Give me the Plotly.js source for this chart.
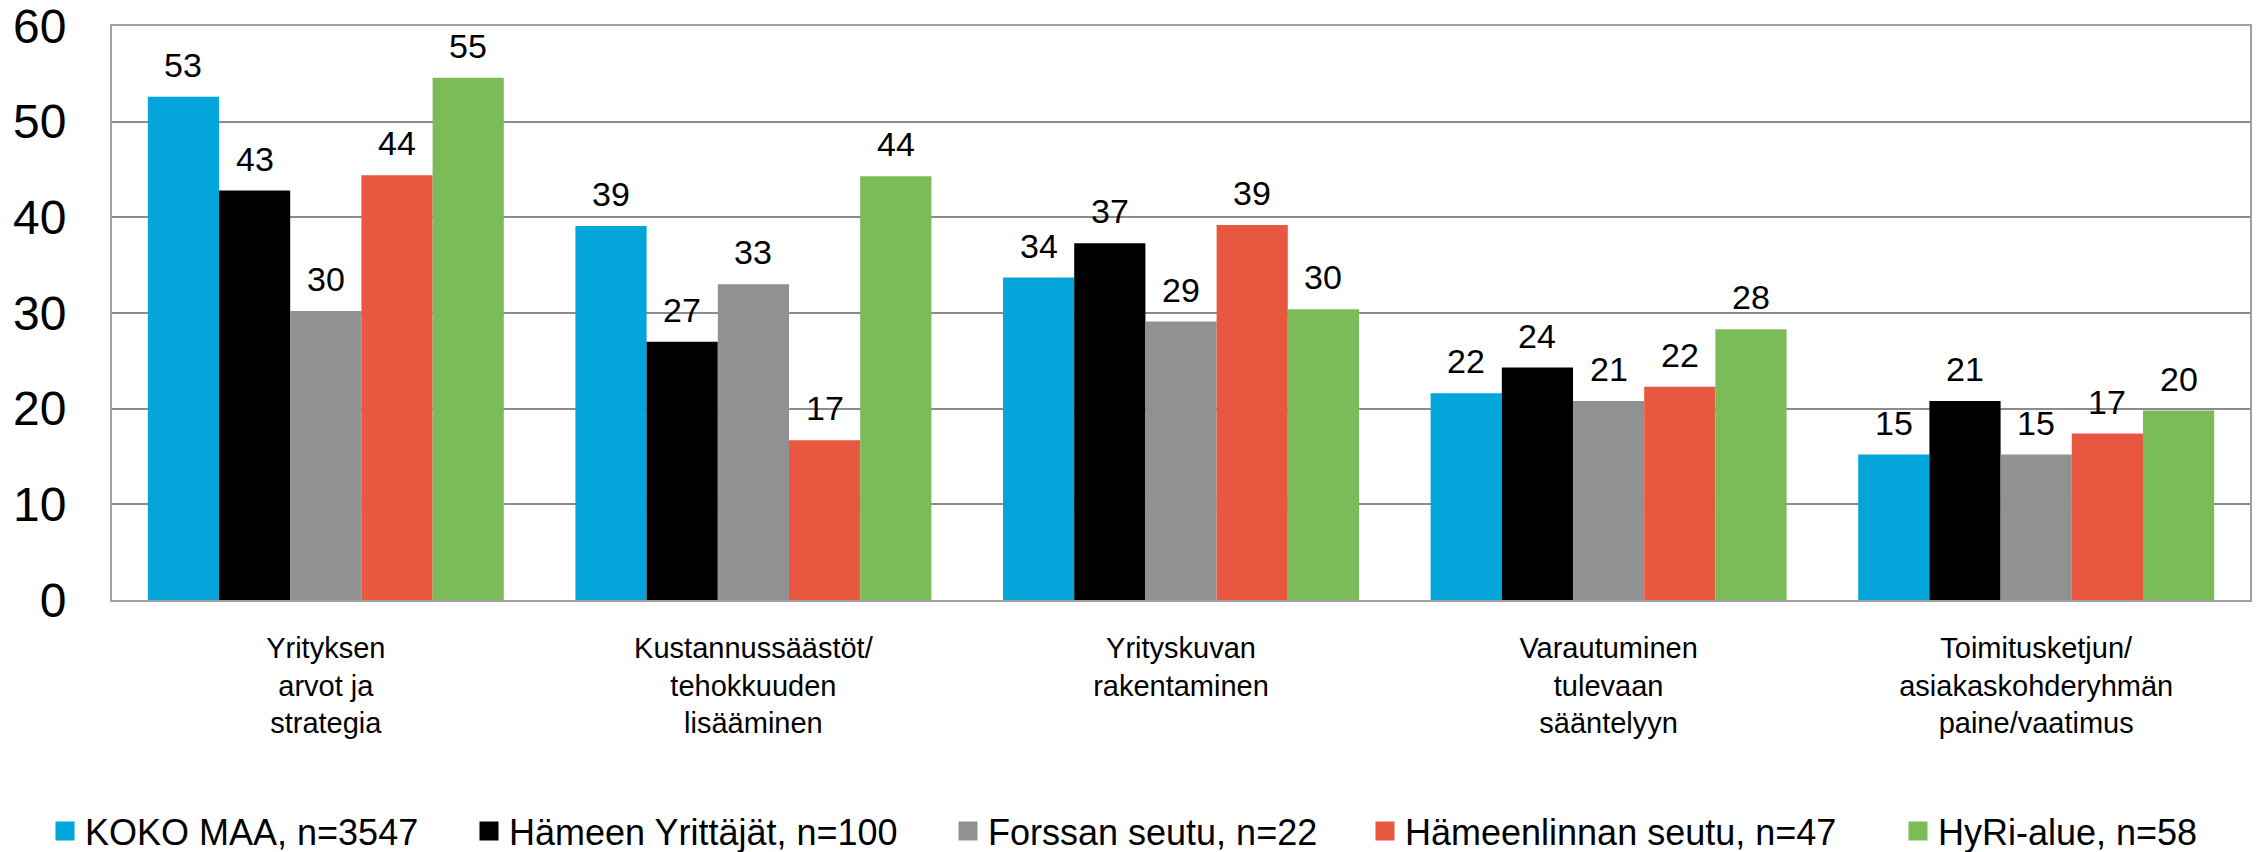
<!DOCTYPE html>
<html>
<head>
<meta charset="utf-8">
<script src="https://cdn.plot.ly/plotly-3.0.1.min.js"></script>
<style>
html,body{margin:0;padding:0;background:#fff;overflow:hidden;width:2260px;height:852px;}
#wrap{width:2260px;height:852px;overflow:hidden;position:relative;}
#chart{width:2260px;height:900px;}
</style>
</head>
<body>
<div id="wrap"><div id="chart"></div></div>
<script>
const categories = [
  "Yrityksen<br>arvot ja<br>strategia",
  "Kustannussäästöt/<br>tehokkuuden<br>lisääminen",
  "Yrityskuvan<br>rakentaminen",
  "Varautuminen<br>tulevaan<br>sääntelyyn",
  "Toimitusketjun/<br>asiakaskohderyhmän<br>paine/vaatimus"
];
const seriesNames = [
  "KOKO MAA, n=3547",
  "Hämeen Yrittäjät, n=100",
  "Forssan seutu, n=22",
  "Hämeenlinnan seutu, n=47",
  "HyRi-alue, n=58"
];
const kokoMaa           = [52.6, 39.1, 33.7, 21.6, 15.2];
const hameenYrittajat   = [42.8, 27.0, 37.3, 24.3, 20.8];
const forssanSeutu      = [30.2, 33.0, 29.1, 20.8, 15.2];
const hameenlinnanSeutu = [44.4, 16.7, 39.2, 22.3, 17.4];
const hyriAlue          = [54.6, 44.3, 30.4, 28.3, 19.8];
const colors = ["#03A5DA", "#000000", "#919191", "#E85840", "#7BBC58"];

const seriesValues = [kokoMaa, hameenYrittajat, forssanSeutu, hameenlinnanSeutu, hyriAlue];
const FONT = "Liberation Sans, Arial, sans-serif";

// layout constants
const FIG_W = 2260, FIG_H = 900;
const M = {l: 112, r: 10, t: 26, b: 300};
const BARGAP = 0.1675;
const plotW = FIG_W - M.l - M.r;
const plotH = FIG_H - M.t - M.b;
const barW = (plotW / categories.length) * (1 - BARGAP) / seriesValues.length;

const legendIds = ["legend", "legend2", "legend3", "legend4", "legend5"];
const legendLeftPx = [45, 469, 948, 1365, 1898];
const legendCenterPx = 831;

const traces = [];
seriesValues.forEach((vals, i) => {
  traces.push({
    type: "bar",
    x: categories,
    y: vals,
    name: seriesNames[i],
    showlegend: false,
    marker: {color: colors[i], line: {width: 0}},
    hoverinfo: "x+y+name"
  });
});
seriesValues.forEach((vals, i) => {
  traces.push({
    type: "scatter",
    mode: "markers",
    x: [null],
    y: [null],
    name: seriesNames[i],
    showlegend: true,
    legend: legendIds[i],
    marker: {symbol: "square", size: 16, color: colors[i], line: {width: 3, color: colors[i]}},
    hoverinfo: "skip"
  });
});

const annotations = [];
seriesValues.forEach((vals, i) => {
  vals.forEach((v, j) => {
    annotations.push({
      x: categories[j],
      y: v,
      xref: "x",
      yref: "y",
      text: String(Math.round(v)),
      showarrow: false,
      xanchor: "center",
      yanchor: "bottom",
      xshift: (i - (seriesValues.length - 1) / 2) * barW,
      yshift: 11,
      font: {family: FONT, size: 34, color: "#000"}
    });
  });
});

const layout = {
  width: FIG_W,
  height: FIG_H,
  margin: {l: M.l, r: M.r, t: M.t, b: M.b, pad: 0},
  paper_bgcolor: "#fff",
  plot_bgcolor: "#fff",
  barmode: "group",
  bargap: BARGAP,
  bargroupgap: 0,
  font: {family: FONT, color: "#000"},
  annotations: annotations,
  xaxis: {
    type: "category",
    showgrid: false,
    showline: true,
    linecolor: "#a0a0a0",
    linewidth: 2,
    mirror: true,
    ticks: "",
    tickfont: {family: FONT, size: 29, color: "#000"},
    ticklabelstandoff: 21,
    automargin: false
  },
  yaxis: {
    range: [0, 60],
    dtick: 10,
    tick0: 0,
    showgrid: true,
    gridcolor: "#8c8c8c",
    gridwidth: 2,
    zeroline: false,
    showline: true,
    linecolor: "#a0a0a0",
    linewidth: 2,
    mirror: true,
    ticks: "",
    tickfont: {family: FONT, size: 48, color: "#000"},
    ticklabelstandoff: 34,
    ticklabeloverflow: "allow",
    automargin: false
  },
  showlegend: true
};
legendIds.forEach((id, i) => {
  layout[id] = {
    orientation: "h",
    x: (legendLeftPx[i] - M.l) / plotW,
    xanchor: "left",
    y: -(legendCenterPx - (M.t + plotH)) / plotH,
    yanchor: "middle",
    font: {family: FONT, size: 36, color: "#000"},
    bgcolor: "rgba(0,0,0,0)",
    borderwidth: 0,
    itemwidth: 30
  };
});

Plotly.newPlot("chart", traces, layout, {displayModeBar: false, staticPlot: true});
</script>
</body>
</html>
